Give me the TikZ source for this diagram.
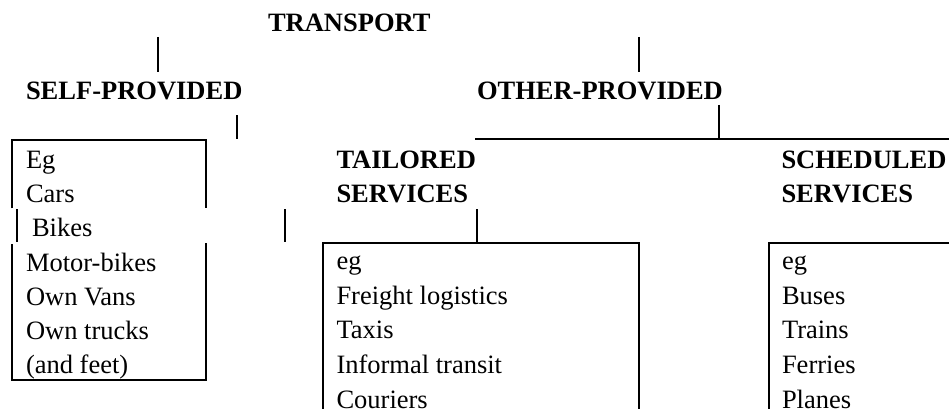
\documentclass[tikz,border=0pt]{standalone}
\usepackage{fontspec}
\setmainfont{Liberation Serif}
\begin{document}
\begin{tikzpicture}[x=1pt,y=-1pt,
  txt/.style={anchor=base west,inner sep=0pt,outer sep=0pt,font=\fontsize{26.5}{34}\selectfont},
  head/.style={txt,font=\fontsize{26.5}{34}\selectfont\bfseries},
  rule/.style={line width=1.9pt,line cap=butt}]
\useasboundingbox (0,0) rectangle (949,409);
\fill[white] (0,0) rectangle (949,409);
% headings
\node[head] (transport) at (268,32) {TRANSPORT};
\node[head] (self) at (26,99.3) {SELF-PROVIDED};
\node[head] (other) at (477,99.3) {OTHER-PROVIDED};
\node[head] (tail1) at (336.5,168.3) {TAILORED};
\node[head] (tail2) at (336.5,202.7) {SERVICES};
\node[head] (sched1) at (781.5,168.3) {SCHEDULED};
\node[head] (sched2) at (781.5,202.7) {SERVICES};
% self-provided list
\node[txt] (s1) at (26,168.3) {Eg};
\node[txt] (s2) at (26,202.7) {Cars};
\node[txt] (s3) at (32,236.9) {Bikes};
\node[txt] (s4) at (26,271.1) {Motor-bikes};
\node[txt] (s5) at (26,305.3) {Own Vans};
\node[txt] (s6) at (26,339.4) {Own trucks};
\node[txt] (s7) at (26,373.6) {(and feet)};
% tailored list
\node[txt] (t1) at (336.5,269.5) {eg};
\node[txt] (t2) at (336.5,304) {Freight logistics};
\node[txt] (t3) at (336.5,338.7) {Taxis};
\node[txt] (t4) at (336.5,373.3) {Informal transit};
\node[txt] (t5) at (336.5,408) {Couriers};
% scheduled list
\node[txt] (c1) at (782,269.5) {eg};
\node[txt] (c2) at (782,304) {Buses};
\node[txt] (c3) at (782,338.7) {Trains};
\node[txt] (c4) at (782,373.3) {Ferries};
\node[txt] (c5) at (782,408) {Planes};
% connector coordinates
\coordinate (v1a) at (158,37);   \coordinate (v1b) at (158,72);
\coordinate (v2a) at (639,37);   \coordinate (v2b) at (639,72);
\coordinate (v3a) at (237,115);  \coordinate (v3b) at (237,138.5);
\coordinate (v4a) at (719,105);  \coordinate (v4b) at (719,139.3);
\coordinate (hL) at (475,139.3); \coordinate (hR) at (955,139.3);
\coordinate (v5a) at (285,209.3); \coordinate (v5b) at (285,241.7);
\coordinate (v6a) at (477,209.3); \coordinate (v6b) at (477,243.3);
\draw[rule] (v1a) -- (v1b);
\draw[rule] (v2a) -- (v2b);
\draw[rule] (v3a) -- (v3b);
\draw[rule] (v4a) -- (v4b);
\draw[rule] (hL) -- (hR);
\draw[rule] (v5a) -- (v5b);
\draw[rule] (v6a) -- (v6b);
% self-provided box (broken at the Bikes row)
\draw[rule] (12.3,208.3) -- (12.3,140) -- (205.7,140) -- (205.7,208.3);
\draw[rule] (16.7,209.3) -- (16.7,241.7);
\draw[rule] (12.3,244) -- (12.3,380) -- (205.7,380) -- (205.7,243.3);
% tailored box
\draw[rule] (322.7,415) -- (322.7,243.3) -- (639,243.3) -- (639,415);
% scheduled box
\draw[rule] (769,415) -- (769,243.3) -- (955,243.3);
\end{tikzpicture}
\end{document}
